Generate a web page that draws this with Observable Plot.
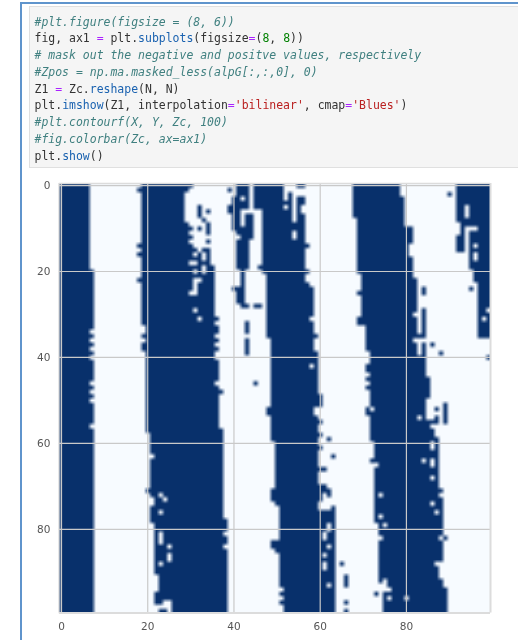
<!DOCTYPE html>
<html>
<head>
<meta charset="utf-8">
<script src="https://cdn.jsdelivr.net/npm/d3@7"></script>
<script src="https://cdn.jsdelivr.net/npm/@observablehq/plot@0.6"></script>
<style>
html,body{margin:0;padding:0;background:#fff;width:518px;height:640px;overflow:hidden}
#outer{position:absolute;left:20px;top:2px;width:498px;height:638px;border-left:2px solid #5f94cc;border-top:2px solid #5f94cc;box-sizing:border-box}
#code{position:absolute;left:29px;top:6px;width:489px;height:162px;box-sizing:border-box;background:#f5f5f5;border:1px solid #e0e0e0;border-right:none;margin:0;padding:6.5px 0 0 4.5px;
font:11.48px/16.78px "DejaVu Sans Mono",monospace;color:#333;white-space:pre;overflow:hidden;filter:blur(.25px)}
.c{color:#408080;font-style:italic}.o{color:#aa22ff}.n{color:#008000}.s{color:#ba2121}.p{color:#1a62b0}
#chart{position:absolute;left:0;top:170px}
#chart svg{background:transparent}
#chart image{filter:blur(.4px)}
#chart text{filter:blur(.2px)}
</style>
</head>
<body>
<div id="outer"></div>
<pre id="code"><span class="c">#plt.figure(figsize = (8, 6))</span>
fig, ax1 <span class="o">=</span> plt.<span class="p">subplots</span>(figsize<span class="o">=</span>(<span class="n">8</span>, <span class="n">8</span>))
<span class="c"># mask out the negative and positve values, respectively</span>
<span class="c">#Zpos = np.ma.masked_less(alpG[:,:,0], 0)</span>
Z1 <span class="o">=</span> Zc.<span class="p">reshape</span>(N, N)
plt.<span class="p">imshow</span>(Z1, interpolation<span class="o">=</span><span class="s">'bilinear'</span>, cmap<span class="o">=</span><span class="s">'Blues'</span>)
<span class="c">#plt.contourf(X, Y, Zc, 100)</span>
<span class="c">#fig.colorbar(Zc, ax=ax1)</span>
plt.<span class="p">show</span>()</pre>
<div id="chart"></div>
<script>
// Last dark column of band 1 (starts at column 0), rows 0-99
const band1End = [
6,6,6,6,6,6,6,6,6,6, 6,6,6,6,6,6,6,6,6,6,
7,7,7,7,7,7,7,7,7,7, 7,7,7,7,6,7,6,7,6,7,
6,7,7,7,7,7,6,7,6,7, 6,7,7,7,7,7,6,7,7,7,
7,7,7,7,7,7,7,7,7,7, 7,7,7,7,7,7,7,7,7,7,
7,7,7,7,7,7,7,7,7,7, 7,7,7,7,7,7,7,7,7,7];
const band2Start = [
19,18,19,19,19,19,19,19,19,19, 19,19,19,19,18,19,18,19,19,19,
19,19,18,19,19,19,19,19,19,19, 19,19,19,20,20,19,20,19,19,20,
20,20,20,20,20,20,20,20,20,20, 20,20,20,20,20,20,20,20,21,21,
21,21,21,22,21,21,21,21,21,21, 21,20,21,22,22,21,21,21,21,22,
22,22,22,22,22,22,22,22,22,22, 22,23,23,23,23,22,22,22,26,23];
const band2End = [
30,29,28,28,28,28,28,28,28,29, 30,29,30,29,30,34,34,34,34,35,
35,35,35,35,35,35,35,35,35,35, 35,36,35,36,36,35,36,35,36,35,
35,36,36,36,36,36,35,36,37,36, 36,36,36,36,36,36,36,37,37,37,
37,37,37,37,37,37,37,37,37,37, 37,37,37,37,37,37,37,37,38,38,
38,37,38,38,37,38,38,38,38,38, 38,38,38,38,38,38,38,38,38,38];
const band3Start = [
45,45,45,45,45,47,47,47,47,47, 47,47,47,47,47,47,47,47,47,46,
47,48,48,48,48,48,48,48,48,48, 48,48,48,48,48,48,49,49,49,49,
49,49,49,49,49,49,49,49,49,49, 49,49,48,48,49,49,49,49,49,49,
50,50,50,50,50,50,50,50,50,50, 50,49,49,49,50,51,51,51,51,51,
51,51,51,49,49,50,51,51,51,51, 51,51,51,51,52,51,52,51,52,52];
const band3End = [
56,51,51,56,56,55,55,56,56,56, 56,56,56,56,57,56,56,56,56,56,
57,56,56,57,58,58,58,58,58,58, 58,57,58,58,58,59,58,58,58,59,
59,59,59,59,59,59,59,59,59,60, 60,60,58,58,59,60,59,59,60,59,
59,60,59,59,59,59,61,59,59,59, 61,62,60,60,59,59,63,63,62,61,
63,63,63,63,63,63,63,63,63,63, 63,63,63,63,63,63,63,63,63,63];
const band4Start = [
68,68,68,68,68,68,68,68,69,69, 69,69,69,69,69,69,69,69,69,69,
69,70,70,70,70,69,70,70,70,70, 70,69,69,71,71,71,71,71,71,72,
72,72,71,71,72,71,72,71,72,72, 72,72,71,71,72,72,72,72,72,72,
73,73,73,73,72,74,73,73,73,73, 73,73,73,73,73,73,73,73,73,74,
74,74,75,74,74,74,74,74,74,74, 74,74,74,75,75,75,75,75,75,75];
const band4End = [
78,78,78,79,79,79,79,79,79,79, 81,81,81,81,80,80,80,81,81,81,
81,81,82,82,82,82,82,82,82,82, 82,82,82,82,82,82,81,82,82,82,
84,84,84,84,84,85,85,85,85,85, 84,84,84,84,84,87,85,86,86,87,
87,87,87,87,87,87,87,87,87,87, 87,88,87,88,88,88,88,88,88,88,
88,88,89,88,88,88,88,88,86,87, 87,87,88,88,89,89,89,89,89,89];
// First dark column of band 5 (runs to column 99), rows 0-35 only
const band5Start = [
92,92,92,92,92,92,92,92,92,93, 95,95,95,95,95,95,95,95,95,95,
96,96,96,97,97,97,97,97,97,97, 97,97,97,97,97,97];
// Extra dark specks: [firstCol, lastCol, firstRow, lastRow]
const darkSpecks = [
[32,32,5,7],[33,33,8,8],[34,34,6,6],[32,32,10,10],[34,34,9,11],[34,34,13,13],
[39,39,1,1],[39,39,5,6],[40,40,3,10],[41,43,0,5],[41,41,6,11],[43,44,7,9],[42,44,10,12],
[41,43,13,19],[42,42,20,23],[40,40,24,24],[41,42,24,27],[42,43,28,28],[45,46,28,28],
[43,43,32,34],[43,43,36,39],[45,45,46,46],[45,46,5,5],[53,53,2,2],
[62,62,59,59],[63,63,63,63],[63,63,75,75],[62,62,72,72],[63,63,78,79],
[65,65,88,88],[66,66,91,93],[66,66,97,97],[66,66,99,99],
[90,90,2,2],[84,84,24,25],[84,84,29,34],[82,84,35,35],[84,84,37,40],[86,86,37,37],[88,88,39,39],
[87,87,52,52],[87,87,54,54],[89,89,51,55],[73,73,95,95],
[93,93,10,11],[92,93,12,15],[95,95,24,24],[99,99,40,40]];
// Light holes inside dark areas: [firstCol, lastCol, firstRow, lastRow]
const lightHoles = [
[32,32,15,15],[31,31,16,16],[33,33,16,17],[30,31,18,18],[33,33,19,20],[31,31,20,20],
[31,32,22,22],[31,31,23,24],[30,31,25,25],[31,31,29,29],[32,32,31,31],
[23,23,72,72],[24,24,73,73],[23,23,76,76],[23,23,81,83],[25,25,84,84],[25,25,86,87],[23,23,88,88],
[24,25,97,97],[25,25,99,99],[42,42,3,3],
[52,54,0,0],[54,54,3,8],[52,52,3,3],[52,52,5,5],[54,54,11,12],[58,58,42,42],
[61,61,72,72],[61,61,81,82],[62,62,80,80],[62,62,84,84],[61,61,86,86],[61,61,88,89],[62,62,93,93],
[72,72,52,52],[84,84,64,64],[86,86,60,61],[86,86,64,65],[86,86,68,68],[86,86,74,74],[87,87,76,76],
[74,74,72,72],[74,74,77,77],[75,75,79,79],[88,88,82,82],[83,83,54,54],[82,82,30,30],
[74,74,95,95],[75,75,92,93],[75,76,94,94],[76,76,96,96],[80,80,96,96],
[94,94,5,7],[95,96,10,10],[96,96,14,14],[96,96,16,17],[99,99,29,29],[98,98,31,31]];
const axisTicks = [0, 20, 40, 60, 80];
const blues = ["#f7fbff", "#08306b"];

const N = 100;
const cells = new Array(N * N).fill(0);
const paint = (c1, c2, r1, r2, v) => {
  for (let r = r1; r <= r2; r++) for (let c = c1; c <= c2; c++) cells[r * N + c] = v;
};
for (let r = 0; r < N; r++) {
  paint(0, band1End[r], r, r, 1);
  paint(band2Start[r], band2End[r], r, r, 1);
  paint(band3Start[r], band3End[r], r, r, 1);
  paint(band4Start[r], band4End[r], r, r, 1);
  if (r < band5Start.length) paint(band5Start[r], 99, r, r, 1);
}
darkSpecks.forEach(([a, b, c, d]) => paint(a, b, c, d, 1));
lightHoles.forEach(([a, b, c, d]) => paint(a, b, c, d, 0));

const plot = Plot.plot({
  width: 518, height: 470,
  marginLeft: 58.85, marginRight: 28, marginTop: 12.9, marginBottom: 27.4,
  style: {background: "transparent", color: "#555", fontFamily: "'DejaVu Sans',sans-serif", fontSize: "10.5px"},
  x: {domain: [-0.5, 99.5], label: null},
  y: {domain: [99.5, -0.5], label: null},
  color: {type: "linear", domain: [0, 1], range: blues},
  marks: [
    Plot.raster(cells, {width: N, height: N, x1: -0.5, x2: 99.5, y1: -0.5, y2: 99.5, fill: d => d}),
    Plot.ruleX(axisTicks, {stroke: "#c9c9c9", strokeWidth: 1.2}),
    Plot.ruleY(axisTicks, {stroke: "#c9c9c9", strokeWidth: 1.2}),
    Plot.ruleX([-0.5], {stroke: "#cfcfcf", strokeWidth: 2.5, strokeOpacity: 0.55}),
    Plot.ruleX([99.5], {stroke: "#dcdcdc", strokeWidth: 2}),
    Plot.ruleY([99.5], {stroke: "#dcdcdc", strokeWidth: 2}),
    Plot.ruleY([-0.5], {stroke: "#dcdcdc", strokeWidth: 1.5}),
    Plot.axisX(axisTicks, {anchor: "bottom", tickSize: 0, tickPadding: 9, label: null, tickFormat: d => d}),
    Plot.axisY(axisTicks, {anchor: "left", tickSize: 0, tickPadding: 9, label: null, tickFormat: d => d})
  ]
});
document.getElementById("chart").appendChild(plot);
</script>
</body>
</html>
